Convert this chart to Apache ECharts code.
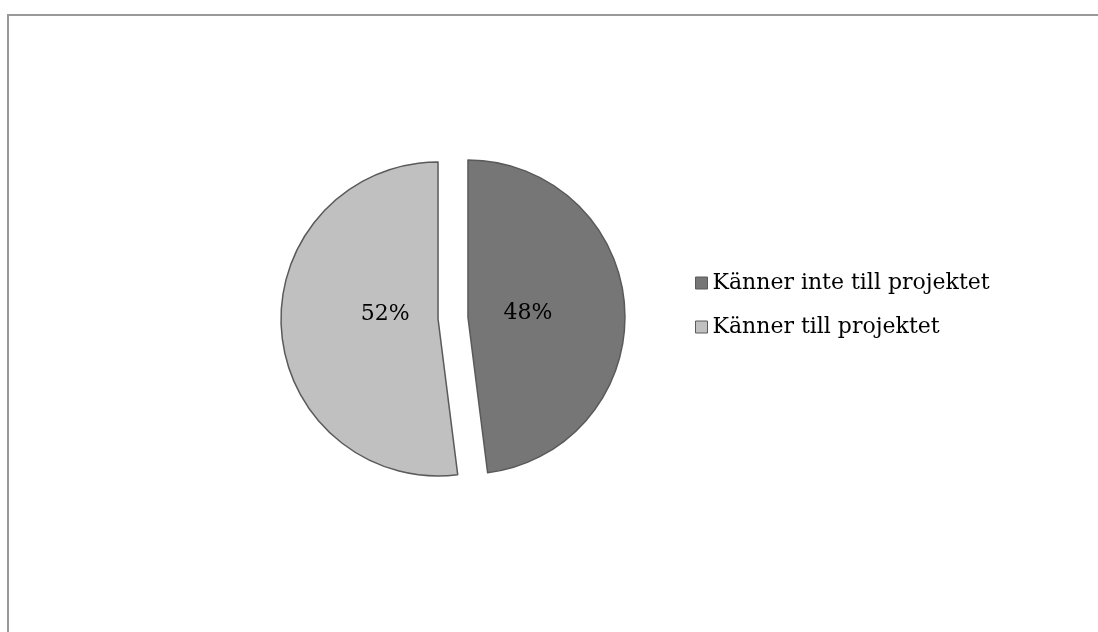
<!DOCTYPE html>
<html>
<head>
<meta charset="utf-8">
<script src="https://cdn.jsdelivr.net/npm/echarts@6/dist/echarts.min.js"></script>
<style>
html,body{margin:0;padding:0;background:#fff;}
#chart{width:1098px;height:632px;}
</style>
</head>
<body>
<div id="chart"></div>
<script>
var categories = ['Känner inte till projektet', 'Känner till projektet'];
var values = [48, 52];
var colors = ['#767676', '#c0c0c0'];

var chart = echarts.init(document.getElementById('chart'), null, {renderer: 'canvas'});
var FONT = '"DejaVu Serif", serif';

function buildData(styled) {
  return categories.map(function (c, i) {
    var d = {name: c, value: values[i], selected: true};
    if (styled) d.itemStyle = {color: colors[i]};
    return d;
  });
}

var option = {
  animation: false,
  backgroundColor: '#ffffff',
  graphic: [{
    type: 'rect',
    shape: {x: 8, y: 15, width: 1200, height: 800},
    style: {fill: 'none', stroke: '#999999', lineWidth: 2},
    silent: true
  }],
  legend: {
    orient: 'vertical',
    left: 690,
    top: 267,
    icon: 'rect',
    itemWidth: 12,
    itemHeight: 12,
    itemGap: 22,
    data: categories,
    selectedMode: false,
    textStyle: {fontFamily: FONT, fontSize: 22, lineHeight: 22, color: '#000'},
    itemStyle: {borderColor: '#5a5a5a', borderWidth: 1}
  },
  series: [{
    type: 'pie',
    center: [453, 318],
    radius: [0, 157],
    startAngle: 90,
    clockwise: true,
    selectedMode: 'multiple',
    selectedOffset: 15,
    emphasis: {disabled: true},
    label: {show: false},
    labelLine: {show: false},
    itemStyle: {borderColor: '#5a5a5a', borderWidth: 1.5},
    data: buildData(true),
    silent: true
  }, {
    type: 'pie',
    center: [453, 318],
    radius: [0, 114],
    startAngle: 90,
    clockwise: true,
    selectedMode: 'multiple',
    selectedOffset: 15,
    emphasis: {disabled: true},
    itemStyle: {color: 'rgba(0,0,0,0)', borderWidth: 0},
    label: {
      show: true,
      position: 'inside',
      formatter: '{d}%',
      fontFamily: FONT,
      fontSize: 22,
      color: '#000'
    },
    labelLayout: function (p) {
      return p.dataIndex === 1 ? {dx: 7, dy: -8} : {};
    },
    labelLine: {show: false},
    data: buildData(false),
    silent: true
  }]
};
chart.setOption(option);
</script>
</body>
</html>
